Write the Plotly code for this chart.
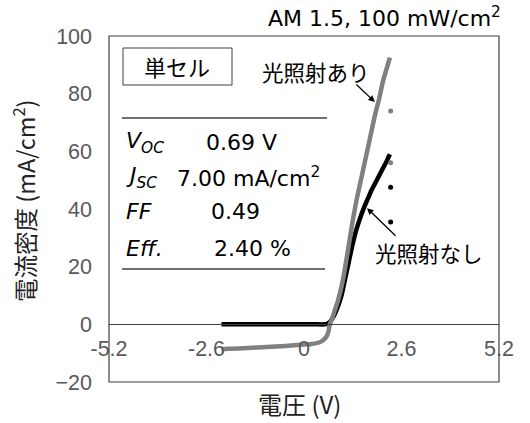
import plotly.graph_objects as go

# J-V measurement of the single cell (voltage in V, current density in mA/cm2)
dark_v = [-2.2, -1.5, -1.0, -0.5, 0.0, 0.3, 0.55, 0.62, 0.7, 0.8, 0.9, 1.0, 1.1, 1.2,
          1.3, 1.4, 1.5, 1.6, 1.7, 1.8, 1.9, 2.0, 2.1, 2.2, 2.29]
dark_j = [0, 0, 0, 0, 0, 0, 0, 0.2, 1, 3, 6, 10, 16, 22,
          28, 33, 37, 40.5, 43.5, 46.5, 49, 51.5, 54, 56.5, 59]

light_v = [-2.2, -2.0, -1.5, -1.0, -0.5, 0.0, 0.2, 0.4, 0.5, 0.6, 0.65, 0.69, 0.75,
           0.8, 0.9, 1.0, 1.1, 1.2, 1.3, 1.4, 1.5, 1.6, 1.7, 1.8, 1.9, 2.0, 2.1, 2.2, 2.29]
light_j = [-8.6, -8.5, -8.2, -7.9, -7.5, -7.0, -6.8, -6.3, -5.6, -4.2, -2.6, 0, 2,
           4, 8, 13, 20, 28, 36, 43, 49, 55, 61, 67, 73, 78, 84, 88.5, 92.5]

# stray readings at the end of each sweep
light_extra_v = [2.31, 2.31]
light_extra_j = [74, 56]
dark_extra_v = [2.31, 2.31]
dark_extra_j = [47.5, 35.5]

x_ticks = [-5.2, -2.6, 0, 2.6, 5.2]
y_ticks = [-20, 0, 20, 40, 60, 80, 100]

# cell parameters shown in the table
param_names = ["<i>V</i><sub><i>OC</i></sub>", "<i>J</i><sub><i>SC</i></sub>",
               "<i>FF</i>", "<i>Eff.</i>"]
param_values = ["0.69 V", "7.00 mA/cm<sup>2</sup>", "0.49", "2.40 %"]

W, H = 530, 423
L, R, T, B = 109, 499, 36, 382
X_RANGE = [-5.2, 5.2]
Y_RANGE = [-20, 100]


def px(x):
    return (x - L) / (R - L)


def py(y):
    return (B - y) / (B - T)


GRAY = "#808080"
TXT = "#595959"
CJK = "Noto Sans CJK JP"
SANS = "DejaVu Sans"

fig = go.Figure()
fig.add_trace(go.Scatter(x=dark_v, y=dark_j, mode="lines",
                         line=dict(color="black", width=4.5, shape="spline", smoothing=0.6),
                         showlegend=False))
fig.add_trace(go.Scatter(x=light_v, y=light_j, mode="lines",
                         line=dict(color=GRAY, width=4.5, shape="spline", smoothing=0.6),
                         showlegend=False))
fig.add_trace(go.Scatter(x=light_extra_v, y=light_extra_j, mode="markers",
                         marker=dict(color=GRAY, size=5), showlegend=False))
fig.add_trace(go.Scatter(x=dark_extra_v, y=dark_extra_j, mode="markers",
                         marker=dict(color="black", size=5), showlegend=False))

zero_pos = (0 - Y_RANGE[0]) / (Y_RANGE[1] - Y_RANGE[0])

fig.update_layout(
    width=W, height=H,
    margin=dict(l=L, r=W - R, t=T, b=H - B),
    paper_bgcolor="white", plot_bgcolor="white",
    xaxis=dict(range=X_RANGE, tickvals=x_ticks, ticktext=[str(v) for v in x_ticks],
               anchor="free", position=zero_pos, showline=True, linecolor="#404040",
               linewidth=1, showgrid=False, zeroline=False, ticks="",
               tickfont=dict(family="Liberation Sans", size=21.5, color=TXT),
               ticklabelstandoff=5),
    yaxis=dict(range=Y_RANGE, tickvals=y_ticks, showgrid=False, zeroline=False,
               showline=False, ticks="",
               tickfont=dict(family="Liberation Sans", size=21.5, color=TXT),
               ticklabelstandoff=16),
)

shapes = [
    # plot frame
    dict(type="rect", xref="paper", yref="paper", x0=0, x1=1, y0=0, y1=1,
         line=dict(color="#404040", width=1.2)),
    # label box
    dict(type="rect", xref="paper", yref="paper", x0=px(123), x1=px(232),
         y0=py(85), y1=py(48), line=dict(color="#404040", width=1)),
    # table rules
    dict(type="line", xref="paper", yref="paper", x0=px(122), x1=px(327),
         y0=py(118), y1=py(118), line=dict(color="#707070", width=2)),
    dict(type="line", xref="paper", yref="paper", x0=px(122), x1=px(325),
         y0=py(269), y1=py(269), line=dict(color="#707070", width=2)),
]
fig.update_layout(shapes=shapes)

ann = []
ann.append(dict(text="AM 1.5, 100 mW/cm<sup>2</sup>", xref="paper", yref="paper",
                x=px(503), y=py(17), xanchor="right", yanchor="middle", showarrow=False,
                font=dict(family=SANS, size=22, color="black")))
ann.append(dict(text="電流密度 (mA/cm<sup>2</sup>)", xref="paper", yref="paper",
                x=px(24), y=py(201), textangle=-90, xanchor="center", yanchor="middle",
                showarrow=False, font=dict(family=CJK, size=23.5, color="#222222")))
ann.append(dict(text="電圧 (V)", xref="paper", yref="paper", x=px(299), y=py(404),
                xanchor="center", yanchor="middle", showarrow=False,
                font=dict(family=CJK, size=24, color="#222222")))
ann.append(dict(text="単セル", xref="paper", yref="paper", x=px(177), y=py(66),
                xanchor="center", yanchor="middle", showarrow=False,
                font=dict(family=CJK, size=22, color="black")))

row_y = [142, 177, 211, 248]
val_x = [204, 175, 209, 212]
for name, val, yy, vx in zip(param_names, param_values, row_y, val_x):
    ann.append(dict(text=name, xref="paper", yref="paper", x=px(124), y=py(yy),
                    xanchor="left", yanchor="middle", showarrow=False,
                    font=dict(family=SANS, size=22, color="black")))
    ann.append(dict(text=val, xref="paper", yref="paper", x=px(vx), y=py(yy),
                    xanchor="left", yanchor="middle", showarrow=False,
                    font=dict(family=SANS, size=22, color="black")))

# curve labels with pointers
ann.append(dict(text="光照射あり", xref="paper", yref="paper", x=px(316), y=py(71),
                xanchor="center", yanchor="middle", showarrow=False,
                font=dict(family=CJK, size=21.5, color="black")))
ann.append(dict(text="", x=1.89, y=77.1, xref="x", yref="y", showarrow=True,
                ax=-20, ay=-19, arrowhead=2, arrowsize=1, arrowwidth=1.3,
                arrowcolor="black"))
ann.append(dict(text="光照射なし", xref="paper", yref="paper", x=px(429), y=py(252),
                xanchor="center", yanchor="middle", showarrow=False,
                font=dict(family=CJK, size=21.5, color="black")))
ann.append(dict(text="", x=1.68, y=40.3, xref="x", yref="y", showarrow=True,
                ax=30, ay=29, arrowhead=2, arrowsize=1, arrowwidth=1.3,
                arrowcolor="black"))
fig.update_layout(annotations=ann)

fig.write_html("out.html")
